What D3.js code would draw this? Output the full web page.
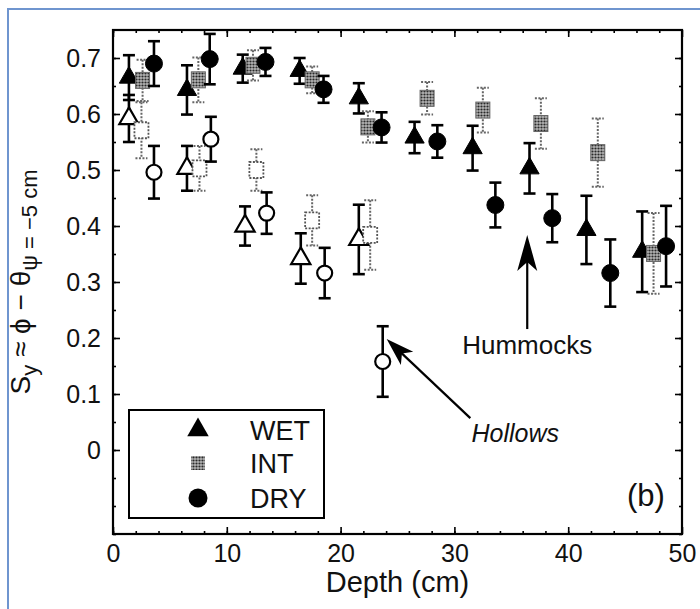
<!DOCTYPE html>
<html>
<head>
<meta charset="utf-8">
<script src="https://cdn.jsdelivr.net/npm/d3@7"></script>
<style>
  body { margin: 0; background: #fff; }
  text { font-family: "Liberation Sans", Arial, sans-serif; }
</style>
</head>
<body>
<script>
// hummocks (filled symbols)
var humWetDepth = [1.4, 6.5, 11.4, 16.4, 21.6, 26.5, 31.6, 36.6, 41.6, 46.5];
var humWet      = [0.665, 0.643, 0.681, 0.677, 0.628, 0.558, 0.539, 0.503, 0.393, 0.354];
var humWetErr   = [0.04, 0.044, 0.025, 0.023, 0.027, 0.028, 0.04, 0.045, 0.061, 0.072];

var humIntDepth = [2.6, 7.5, 12.3, 17.5, 22.4, 27.6, 32.5, 37.6, 42.6, 47.5];
var humInt      = [0.66, 0.661, 0.687, 0.661, 0.577, 0.628, 0.607, 0.583, 0.531, 0.351];
var humIntErr   = [0.037, 0.04, 0.027, 0.024, 0.028, 0.029, 0.04, 0.045, 0.061, 0.072];

var humDryDepth = [3.6, 8.5, 13.4, 18.5, 23.6, 28.5, 33.6, 38.6, 43.7, 48.6];
var humDry      = [0.69, 0.698, 0.693, 0.644, 0.576, 0.551, 0.4375, 0.414, 0.316, 0.364];
var humDryErr   = [0.04, 0.045, 0.025, 0.024, 0.027, 0.029, 0.04, 0.043, 0.06, 0.072];

// hollows (open symbols)
var holWetDepth = [1.4, 6.5, 11.6, 16.5, 21.6];
var holWet      = [0.592, 0.503, 0.40, 0.342, 0.376];
var holWetErr   = [0.042, 0.04, 0.035, 0.045, 0.062];

var holIntDepth = [2.5, 7.6, 12.6, 17.5, 22.6];
var holInt      = [0.571, 0.503, 0.50, 0.41, 0.384];
var holIntErr   = [0.05, 0.04, 0.037, 0.045, 0.062];

var holDryDepth = [3.6, 8.6, 13.5, 18.6, 23.7];
var holDry      = [0.496, 0.555, 0.423, 0.316, 0.158];
var holDryErr   = [0.047, 0.04, 0.037, 0.045, 0.063];

var xTicks = [0, 10, 20, 30, 40, 50];
var yTicks = [0, 0.1, 0.2, 0.3, 0.4, 0.5, 0.6, 0.7];
var legendNames = ['WET', 'INT', 'DRY'];

function zip(dep, val, err) {
	return dep.map(function(d, i) { return {d: d, v: val[i], e: err[i]}; });
}

var svg = d3.select('body').append('svg')
	.attr('width', 700)
	.attr('height', 609);

// INT hatch pattern
var defs = svg.append('defs');
var pat = defs.append('pattern').attr('id', 'hatch')
	.attr('width', 3).attr('height', 3)
	.attr('patternUnits', 'userSpaceOnUse');
pat.append('rect').attr('width', 3).attr('height', 3).attr('fill', '#b4b4b4');
pat.append('circle').attr('cx', 1.5).attr('cy', 1.5).attr('r', 1.1).attr('fill', '#2a2a2a');

// blue page border
svg.append('rect')
	.attr('x', 8).attr('y', 9).attr('width', 720).attr('height', 640)
	.attr('fill', 'none').attr('stroke', '#6f95cf').attr('stroke-width', 2);

var x = d3.scaleLinear().domain([0, 50]).range([113, 682]);
var y = d3.scaleLinear().domain([-0.15, 0.75]).range([534, 30]);

// axes (ticks point inward)
var minorY = d3.range(-0.15, 0.75, 0.05).map(function(v) { return +v.toFixed(2); });
var minorX = d3.range(0, 50, 2);

function styleAxis(g) {
	g.select('.domain').remove();
	g.selectAll('line').attr('stroke', '#000').attr('stroke-width', 1.6);
	g.selectAll('text').attr('font-size', 25).attr('fill', '#111')
		.style('font-family', '"Liberation Sans", Arial, sans-serif');
}

svg.append('g').attr('transform', 'translate(113,0)')
	.call(d3.axisLeft(y).tickValues(minorY).tickSize(-3).tickFormat(''))
	.call(styleAxis);
svg.append('g').attr('transform', 'translate(113,0)')
	.call(d3.axisLeft(y).tickValues(yTicks).tickSize(-7).tickPadding(12).tickFormat(function(d) { return d === 0 ? '0' : d3.format('.1f')(d); }))
	.call(styleAxis);
svg.append('g').attr('transform', 'translate(682,0)')
	.call(d3.axisRight(y).tickValues(minorY).tickSize(-3).tickFormat(''))
	.call(styleAxis);
svg.append('g').attr('transform', 'translate(682,0)')
	.call(d3.axisRight(y).tickValues(yTicks).tickSize(-7).tickFormat(''))
	.call(styleAxis);
svg.append('g').attr('transform', 'translate(0,534)')
	.call(d3.axisBottom(x).tickValues(minorX).tickSize(-3).tickFormat(''))
	.call(styleAxis);
svg.append('g').attr('transform', 'translate(0,534)')
	.call(d3.axisBottom(x).tickValues(xTicks).tickSize(-7).tickPadding(10).tickFormat(d3.format('d')))
	.call(styleAxis);
svg.append('g').attr('transform', 'translate(0,30)')
	.call(d3.axisTop(x).tickValues(minorX).tickSize(-3).tickFormat(''))
	.call(styleAxis);
svg.append('g').attr('transform', 'translate(0,30)')
	.call(d3.axisTop(x).tickValues(xTicks).tickSize(-7).tickFormat(''))
	.call(styleAxis);

// frame
svg.append('rect')
	.attr('x', 113).attr('y', 30).attr('width', 682 - 113).attr('height', 534 - 30)
	.attr('fill', 'none').attr('stroke', '#000').attr('stroke-width', 2.2);

// axis titles
svg.append('text').text('Depth (cm)')
	.attr('x', (113 + 682) / 2).attr('y', 592)
	.attr('text-anchor', 'middle').attr('font-size', 29).attr('fill', '#111');

var ylab = svg.append('text')
	.attr('transform', 'translate(30,282) rotate(-90)')
	.attr('text-anchor', 'middle').attr('font-size', 28).attr('fill', '#111');
ylab.append('tspan').text('S');
ylab.append('tspan').text('y').attr('font-size', 22).attr('dy', 7);
ylab.append('tspan').text(' \u2248 \u03d5 \u2212 \u03b8').attr('dy', -7);
ylab.append('tspan').text('\u03c8 = \u22125 cm').attr('font-size', 22).attr('dy', 7);

// error bars
function errorBars(data, solid) {
	var g = svg.append('g')
		.attr('stroke', solid ? '#000' : '#666')
		.attr('stroke-width', solid ? 2.6 : 2)
		.attr('stroke-dasharray', solid ? null : '2,1.5')
		.attr('fill', 'none');
	g.selectAll('line.v').data(data).enter().append('line')
		.attr('x1', function(d) { return x(d.d); })
		.attr('x2', function(d) { return x(d.d); })
		.attr('y1', function(d) { return y(d.v + d.e); })
		.attr('y2', function(d) { return y(d.v - d.e); });
	[1, -1].forEach(function(s) {
		g.selectAll('line.c' + s).data(data).enter().append('line')
			.attr('x1', function(d) { return x(d.d) - 6; })
			.attr('x2', function(d) { return x(d.d) + 6; })
			.attr('y1', function(d) { return y(d.v + s * d.e); })
			.attr('y2', function(d) { return y(d.v + s * d.e); });
	});
}

var tri = d3.symbol().type(d3.symbolTriangle).size(160);

function triangles(data, open) {
	svg.append('g').selectAll('path').data(data).enter().append('path')
		.attr('d', tri)
		.attr('transform', function(d) { return 'translate(' + x(d.d) + ',' + y(d.v) + ')'; })
		.attr('fill', open ? '#fff' : '#000')
		.attr('stroke', '#000').attr('stroke-width', open ? 2.2 : 1);
}
function circles(data, open) {
	svg.append('g').selectAll('circle').data(data).enter().append('circle')
		.attr('cx', function(d) { return x(d.d); })
		.attr('cy', function(d) { return y(d.v); })
		.attr('r', open ? 7.5 : 8.5)
		.attr('fill', open ? '#fff' : '#000')
		.attr('stroke', '#000').attr('stroke-width', open ? 2.2 : 1);
}
function squares(data, open) {
	svg.append('g').selectAll('rect').data(data).enter().append('rect')
		.attr('x', function(d) { return x(d.d) - 7; })
		.attr('y', function(d) { return y(d.v) - 8; })
		.attr('width', 14).attr('height', 16)
		.attr('fill', open ? '#fff' : 'url(#hatch)')
		.attr('stroke', open ? '#555' : '#666')
		.attr('stroke-width', open ? 1.8 : 1)
		.attr('stroke-dasharray', open ? '2,1.5' : null);
}

var hw = zip(humWetDepth, humWet, humWetErr),
	hi = zip(humIntDepth, humInt, humIntErr),
	hd = zip(humDryDepth, humDry, humDryErr),
	ow = zip(holWetDepth, holWet, holWetErr),
	oi = zip(holIntDepth, holInt, holIntErr),
	od = zip(holDryDepth, holDry, holDryErr);

errorBars(ow, true); triangles(ow, true);
errorBars(oi, false); squares(oi, true);
errorBars(od, true); circles(od, true);
errorBars(hw, true); triangles(hw, false);
errorBars(hi, false); squares(hi, false);
errorBars(hd, true); circles(hd, false);

// annotation arrows
function arrow(x1, y1, x2, y2, len, wid) {
	var ang = Math.atan2(y2 - y1, x2 - x1);
	var ux = Math.cos(ang), uy = Math.sin(ang), nx = -uy, ny = ux;
	svg.append('line')
		.attr('x1', x1).attr('y1', y1)
		.attr('x2', x2 - ux * len * 0.6).attr('y2', y2 - uy * len * 0.6)
		.attr('stroke', '#000').attr('stroke-width', 2.2);
	var bx = x2 - ux * len, by = y2 - uy * len;
	var p = [[x2, y2],
		[bx + nx * wid / 2, by + ny * wid / 2],
		[x2 - ux * len * 0.75, y2 - uy * len * 0.75],
		[bx - nx * wid / 2, by - ny * wid / 2]];
	svg.append('path').attr('d', 'M' + p.join('L') + 'Z').attr('fill', '#000');
}

arrow(x(36.4), y(0.216), x(36.4), y(0.384), 36, 20);
arrow(x(31.4), y(0.057), x(24.05), y(0.198), 28, 18);

svg.append('text').text('Hummocks')
	.attr('x', x(36.4)).attr('y', y(0.171))
	.attr('text-anchor', 'middle').attr('font-size', 26).attr('fill', '#111');
svg.append('text').text('Hollows')
	.attr('x', x(31.5)).attr('y', y(0.015))
	.attr('font-style', 'italic').attr('font-size', 25).attr('fill', '#111');
svg.append('text').text('(b)')
	.attr('x', x(48.5)).attr('y', y(-0.1))
	.attr('text-anchor', 'end').attr('font-size', 31).attr('fill', '#111');

// legend
var lg = svg.append('g');
lg.append('rect').attr('x', 129).attr('y', 410).attr('width', 195).attr('height', 108)
	.attr('fill', '#fff').attr('stroke', '#000').attr('stroke-width', 2);
var rowY = [430, 463, 498];
lg.append('path').attr('d', d3.symbol().type(d3.symbolTriangle).size(200))
	.attr('transform', 'translate(198,' + rowY[0] + ')').attr('fill', '#000');
lg.append('rect').attr('x', 191).attr('y', rowY[1] - 7).attr('width', 14).attr('height', 14)
	.attr('fill', 'url(#hatch)');
lg.append('circle').attr('cx', 198).attr('cy', rowY[2]).attr('r', 9.5).attr('fill', '#000');
lg.selectAll('text.leg').data(legendNames).enter().append('text')
	.attr('x', 250).attr('y', function(d, i) { return rowY[i]; })
	.attr('dy', '0.36em').attr('font-size', 27).attr('fill', '#111')
	.text(function(d) { return d; });
</script>
</body>
</html>
